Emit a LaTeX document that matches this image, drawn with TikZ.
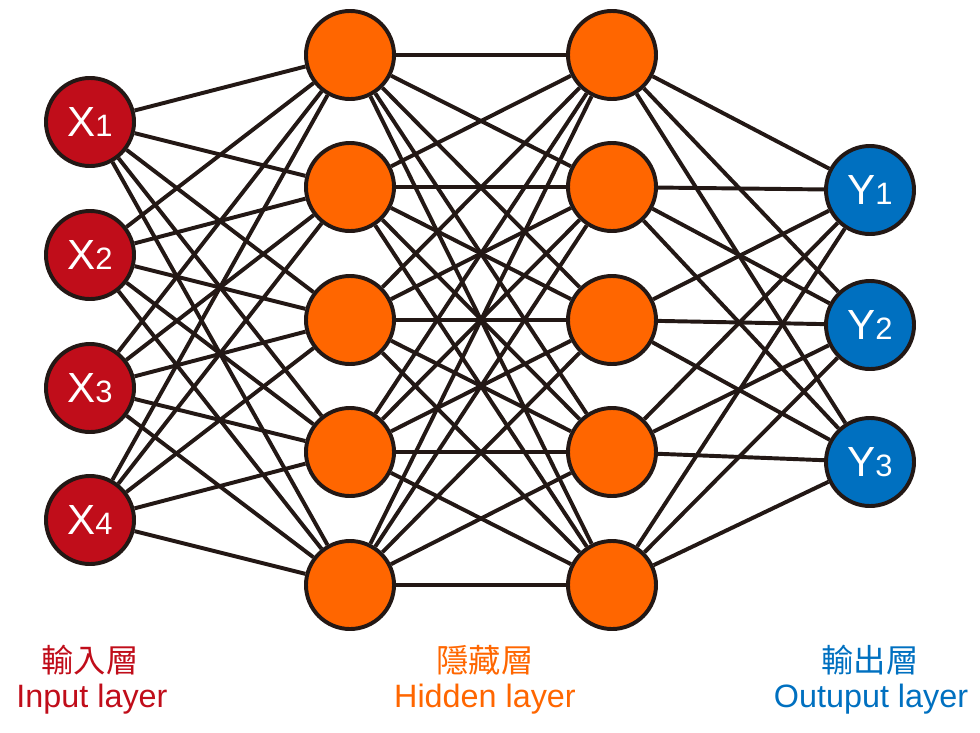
\documentclass[tikz,border=0pt]{standalone}
\usepackage{fontspec}
\setmainfont{Liberation Sans}
\newfontfamily\cjk{Noto Sans CJK TC}
\definecolor{inred}{HTML}{C00D1A}
\definecolor{hidorange}{HTML}{FF6600}
\definecolor{outblue}{HTML}{0070C0}
\definecolor{wire}{HTML}{231815}
\newcommand{\unit}[2]{#1{\fontsize{22}{22}\selectfont #2}}
\begin{document}
\begin{tikzpicture}[x=0.025cm,y=-0.025cm]
            \useasboundingbox (0,0) rectangle (980,732);
            \tikzset{neuron/.style={circle,draw=wire,line width=2.8pt,minimum size=2.2cm,inner sep=0pt,text=white,font=\fontsize{30}{30}\selectfont}}

            \begin{scope}[every node/.style={neuron,fill=inred}]
                \node (X1) at (90,122) {\unit{X}{1}};
                \node (X2) at (90,255) {\unit{X}{2}};
                \node (X3) at (90,388) {\unit{X}{3}};
                \node (X4) at (90,520) {\unit{X}{4}};
            \end{scope}

            \begin{scope}[every node/.style={neuron,fill=hidorange}]
                \node (A1) at (350,55) {};
                \node (A2) at (350,187) {};
                \node (A3) at (350,320) {};
                \node (A4) at (350,452) {};
                \node (A5) at (350,585) {};
                \node (B1) at (612,55) {};
                \node (B2) at (612,187) {};
                \node (B3) at (612,320) {};
                \node (B4) at (612,452) {};
                \node (B5) at (612,585) {};
            \end{scope}

            \begin{scope}[every node/.style={neuron,fill=outblue}]
                \node (Y1) at (870,190) {\unit{Y}{1}};
                \node (Y2) at (870,325) {\unit{Y}{2}};
                \node (Y3) at (870,462) {\unit{Y}{3}};
            \end{scope}

            \begin{scope}[line width=2.8pt,draw=wire]
                \foreach \i in {1,...,4}
                    \foreach \j in {1,...,5}
                        \path [draw] (X\i) edge (A\j);
                \foreach \i in {1,...,5}
                    \foreach \j in {1,...,5}
                        \path [draw] (A\i) edge (B\j);
                \foreach \i in {1,...,5}
                    \foreach \j in {1,...,3}
                        \path [draw] (B\i) edge (Y\j);
            \end{scope}

            \begin{scope}[every node/.style={font=\fontsize{23}{23}\selectfont}]
                \node [text=inred] (inzh) at (90,660) {\cjk 輸入層};
                \node [text=inred] (inen) at (92,699) {Input layer};
                \node [text=hidorange] (hidzh) at (485,660) {\cjk 隱藏層};
                \node [text=hidorange] (hiden) at (485,699) {Hidden layer};
                \node [text=outblue] (outzh) at (870,660) {\cjk 輸出層};
                \node [text=outblue] (outen) at (871,699) {Outuput layer};
            \end{scope}
            \end{tikzpicture}
\end{document}
